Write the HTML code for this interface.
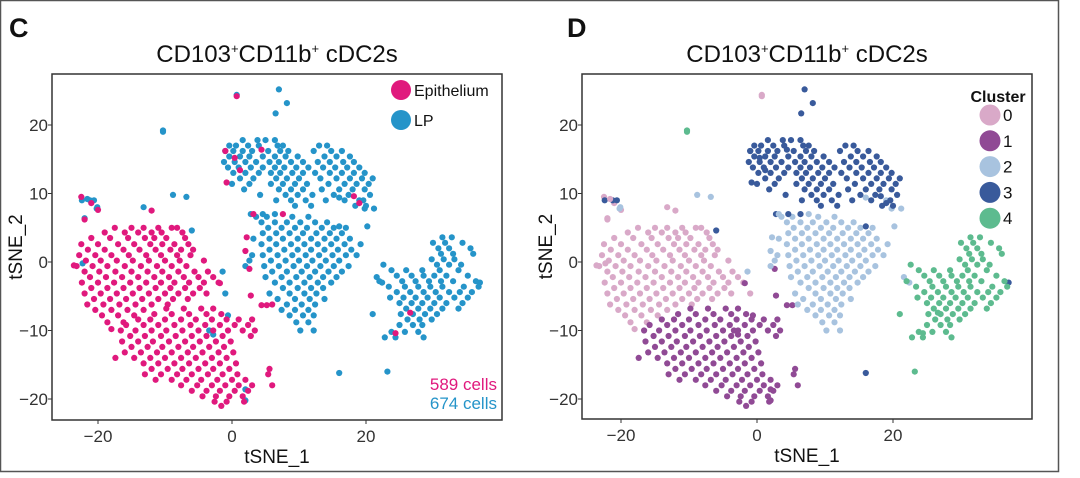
<!DOCTYPE html>
<html><head><meta charset="utf-8">
<style>
html,body{margin:0;padding:0;background:#fff;}
body{width:1080px;height:473px;overflow:hidden;position:relative;font-family:"Liberation Sans",sans-serif;}
svg text{font-family:"Liberation Sans",sans-serif;}
</style></head>
<body>
<svg id="chart" width="1080" height="473" viewBox="0 0 1080 473" xmlns="http://www.w3.org/2000/svg">
<rect x="0.5" y="0.5" width="1058" height="471" fill="#fff" stroke="#555" stroke-width="1.5"/>
<text x="9" y="37" font-size="27" font-weight="bold" fill="#111">C</text>
<text x="567" y="37" font-size="27" font-weight="bold" fill="#111">D</text>
<text x="277" y="62" font-size="24" text-anchor="middle" fill="#111">CD103<tspan font-size="13" dy="-9">+</tspan><tspan dy="9">CD11b</tspan><tspan font-size="13" dy="-9">+</tspan><tspan dy="9"> cDC2s</tspan></text>
<text x="807" y="62" font-size="24" text-anchor="middle" fill="#111">CD103<tspan font-size="13" dy="-9">+</tspan><tspan dy="9">CD11b</tspan><tspan font-size="13" dy="-9">+</tspan><tspan dy="9"> cDC2s</tspan></text>
<g id="panelC"></g>
<g id="panelD"></g>
</svg>
<script>
// tSNE coordinates, grouped by cluster: rows of [tSNE_2, [tSNE_1 values]]
const cluster0Rows = [
 [5,[-17.5,-15,-13.2,-11,-9,-8.2]],
 [4.3,[-19,-16,-14,-12,-10.5,-7.4]],
 [3.5,[-21,-18.2,-15.5,-13,-11.6,-9.8,-7]],
 [2.6,[-22.5,-20,-17,-14.6,-12.2,-10.4,-8.6,-6.5]],
 [1.8,[-21.5,-19,-16.2,-13.8,-11.4,-9.2,-7.6,-5.8]],
 [1,[-22.8,-20.4,-18,-15.4,-12.8,-10.6,-8.2,-6.2]],
 [0.2,[-21.8,-19.6,-17.2,-14.8,-12.4,-10,-7.8,-4.2]],
 [-0.6,[-23.2,-20.8,-18.6,-16,-13.6,-11.2,-9,-6.8]],
 [-1.4,[-22,-19.8,-17.4,-15,-12.6,-10.4,-8,-5.6,-3.6]],
 [-2.2,[-21.2,-18.8,-16.4,-14,-11.6,-9.4,-7.2,-5,-2.8]],
 [-3,[-22.4,-20,-17.6,-15.2,-12.8,-10.6,-8.6,-6.4,-4.2,-2]],
 [-3.8,[-21,-18.6,-16.2,-13.8,-11.4,-9.2,-7,-4.8]],
 [-4.6,[-22,-19.6,-17.2,-14.8,-12.4,-10,-8,-5.8,-3.8]],
 [-5.4,[-20.6,-18.2,-15.8,-13.4,-11,-8.8,-6.6]],
 [-6.2,[-21.6,-19.2,-16.8,-14.4,-12,-9.6]],
 [-7,[-20.4,-18,-15.6,-13.2]],
 [-7.8,[-19.4,-17,-14.6]],
 [-8.8,[-18.6,-16.2]],
 [-9.8,[-18]],
 [9.5,[-22.5]],[8.6,[-21]],[7.6,[-20]],[6.2,[-22]],[7.5,[-12]],[-0.5,[-23.6]],[24.2,[0.7]]
];
const cluster1Rows = [
 [-6.8,[-9.8,-7.2,-4.6,-2.8]],
 [-7.6,[-11.6,-9,-6.4,-3.8,-1.6]],
 [-8.4,[-14,-12.2,-10,-7.6,-5.4,-3,-0.8,1,3]],
 [-9.2,[-15.8,-13.2,-11,-8.6,-6.2,-4,-1.8,0.4,2.4]],
 [-10,[-16.6,-14.4,-12,-9.8,-7.4,-5,-2.8,-0.6,1.6,3.4]],
 [-10.8,[-15.2,-13,-10.6,-8.4,-6,-3.8,-1.4,2.8]],
 [-11.6,[-16.4,-14,-11.8,-9.4,-7,-4.8,-2.4,-0.2]],
 [-12.4,[-15,-12.6,-10.4,-8,-5.8,-3.4,-1.2]],
 [-13.2,[-16,-13.6,-11.2,-9,-6.6,-4.4,-2,0.2]],
 [-14,[-17.4,-14.6,-12.2,-10,-7.6,-5.4,-3,-0.8]],
 [-14.8,[-13.2,-11,-8.6,-6.4,-4,-1.8,0.6]],
 [-15.6,[-12,-9.6,-7.4,-5,-2.8,-0.4,5.6]],
 [-16.4,[-13,-10.6,-8.2,-6,-3.6,-1.4,0.8,5.4]],
 [-17.2,[-11.4,-9,-6.8,-4.6,-2.2,0,2]],
 [-18,[-7.6,-5.2,-3,-1,1,3,6]],
 [-18.8,[-6,-3.8,-1.8,0.4,2.4]],
 [-19.6,[-4.4,-2.4,-0.4,1.6]],
 [-20.4,[-2.6,-0.8,1.8]],
 [-21,[-1.6]],
 [-6.3,[4.4,5.2]],[-4.9,[2.8]],[-3.1,[-1.8]],[-1,[2.6]]
];
const cluster2Rows = [
 [6.6,[3.6,5.2,9,11.4]],
 [5.8,[4.4,6.4,8.2,10.2,12.4,14.2]],
 [5,[5.4,7.4,9.4,11.2,13.4,15.2,17]],
 [4.2,[4.6,6.6,8.6,10.6,12.6,14.6,16.4]],
 [3.4,[3.2,5.6,7.6,9.8,11.8,13.8,15.6,17.6]],
 [2.6,[4.4,6.6,8.8,10.8,12.8,14.8,16.8,19.2]],
 [1.8,[5.6,7.8,9.8,11.8,13.8,15.8,17.8]],
 [1,[3,4.6,6.8,9,11,13,15,17,18.6]],
 [0.2,[5.8,8,10,12,14,16,2.6]],
 [-0.6,[2,4.8,7,9.2,11.2,13.2,15.2,17.4]],
 [-1.4,[6,8.2,10.4,12.4,14.4,16.4,-1.4]],
 [-2.2,[5,7.4,9.6,11.6,13.6,15.6,21.6]],
 [-3,[6.4,8.6,10.8,12.8,14.8,22.4]],
 [-3.8,[7.6,9.8,11.8,13.6]],
 [-4.6,[5.6,8.6,10.8,12.6]],
 [-5.4,[6.8,9.4,11.6,13.8]],
 [-6.2,[8.2,10.4,12.4]],
 [-7,[7.4,9.4,11.4]],
 [-7.8,[8.6,10.6,12.2]],
 [-8.8,[9.6,11.4]],
 [-10,[10.2,12.2]],
 [9.5,[-6.8]],[7.8,[-20.2,19.8,21.2]],[9,[19]],[9.4,[16]],[5.2,[20.2]]
];
const cluster3Rows = [
 [17.8,[1.6,3.8,5,6.4]],
 [17,[-0.4,0.6,2.4,4,6.8,7.6,13,14.2]],
 [16.2,[-1,0.2,1.6,3,5.4,7.2,8.4,12.2,14.8,16.4]],
 [15.4,[-0.4,1.2,2.6,4.6,6.4,8,9.8,13.8,15.6,17.6]],
 [14.6,[-1.2,0.4,2,3.6,5.6,7,8.8,10.6,12.8,14.6,16.6,18.2]],
 [13.8,[-0.6,1,2.8,4.6,6.4,7.8,9.6,11.4,13.6,15.4,17.2,19]],
 [13,[0.2,2,4,5.8,7.2,9,10.6,12.4,14.6,16.4,18.2,19.8]],
 [12.2,[1.2,3.2,6.6,8.2,10,13.2,15.6,17.6,19.4,21]],
 [11.4,[0,2.6,5.8,7.6,9.4,11.2,14.4,16.8,18.6,20.4]],
 [10.6,[1.8,7,8.8,10.6,13.4,16,18,19.8]],
 [9.8,[4.2,8,9.8,12,15.2,17.4,20.6]],
 [9,[6.6,8.8,11,14,16.8,19.6,-21.2,-20.6]],
 [8.2,[9.4,11.8,18.4,20]],
 [7,[2.8,4.6,6.4]],
 [25.2,[7]],[23.2,[8.2]],[21.7,[6.5]],[4.6,[-6]],[-16.2,[16]],[-3,[37]],[5.2,[16]]
];
const cluster4Rows = [
 [3.6,[31.4,32.8]],
 [2.8,[30,31.8,34.4]],
 [2,[30.8,32.4,35.6]],
 [1.2,[31.2,33,36]],
 [0.4,[29.8,31.6,33.2]],
 [-0.4,[22.6,30.6,32.4,34.2]],
 [-1.2,[23.8,26,28.4,31,33.8]],
 [-2,[24.6,26.8,28.6,30.2,32,35.2]],
 [-2.8,[22,25.4,27.4,29.4,31.2,33,36.4]],
 [-3.6,[23.4,25.8,27.8,29.6,31.4,34.6,36.8]],
 [-4.4,[24.6,26.6,28.6,30.4,32.4,34,35.8]],
 [-5.2,[23.6,25.6,27.4,29.2,31,33.2,35.2]],
 [-6,[25,26.8,28.4,30.2,32,34.4]],
 [-6.8,[26,27.8,29.6,31.4,33.8]],
 [-7.6,[25.2,27,28.8,30.6,21]],
 [-8.4,[26.2,28,29.8]],
 [-9.2,[25,27,28.4]],
 [-10.2,[23.8,25.8,27.8]],
 [-11,[22.8,24.4,28.6]],
 [-16,[23.2]],[19,[-10.3]]
];
// cells whose tissue differs from its cluster's usual tissue: [tSNE_1, tSNE_2, tissue, cluster]
const mixedCells = [
 [-1,16.2,'E',3],[0.4,15.2,'E',3],[1.2,13.4,'E',3],[-0.8,11.6,'E',3],[4.4,16.4,'E',3],
 [3.2,7,'E',2],[7.6,7,'E',2],[2.2,3.6,'E',2],[2,1.6,'E',2],[6,-6.2,'E',2],
 [18.2,9.6,'E',3],[19,8.6,'E',3],[26.6,-7.4,'E',4],[24.4,-10.4,'E',4],
 [-3.4,-10,'L',1],[-2.8,-10.6,'L',1],[-1,-4.6,'L',0],[-0.6,-7.8,'L',1],[2,-20.2,'L',1],[2,-18.6,'L',1],
 [-22.3,-0.2,'L',0],[-22.4,9,'L',3],[-21.6,9.2,'L',0],[-20.1,8,'L',2],[-22,6.4,'L',0],[-13.2,8,'L',0],[-8.8,9.8,'L',2],
 [-10.3,19.2,'L',4],[0.7,24.4,'L',0]
];
const clusterLabels = ['0','1','2','3','4'];
const tissueLabels = ['Epithelium','LP'];
const cellCounts = ['589 cells','674 cells'];
const xTicks = [-20,0,20];
const yTicks = [20,10,0,-10,-20];

const tissueColor = {E:'#e0197d', L:'#2594c9'};
const clusterColor = ['#d9a9c8','#904a95','#a8c3df','#395a9b','#5dbb8f'];
const NS='http://www.w3.org/2000/svg';
function el(tag, attrs, parent){const e=document.createElementNS(NS,tag);for(const k in attrs)e.setAttribute(k,attrs[k]);parent.appendChild(e);return e;}

// build point list
const points=[];
[cluster0Rows,cluster1Rows,cluster2Rows,cluster3Rows,cluster4Rows].forEach((rows,ci)=>{
  rows.forEach(r=>r[1].forEach(x=>points.push({x:x,y:r[0],t:ci<2?'E':'L',c:ci})));
});
mixedCells.forEach(m=>points.push({x:m[0],y:m[1],t:m[2],c:m[3]}));

function panel(g, box, x0, y0, kx, ky, mode){
  const sx=v=>x0+kx*v, sy=v=>y0-ky*v;
  const pts=el('g',{},g);
  
  
  const order = mode==='tissue' ? points.slice().sort((a,b)=>(a.t==='L'?0:1)-(b.t==='L'?0:1)) : points;
  order.forEach(p=>{
    const c=el('circle',{cx:sx(p.x).toFixed(1),cy:sy(p.y).toFixed(1),r:3.1,fill:mode==='tissue'?tissueColor[p.t]:clusterColor[p.c]},pts);
    
    
  });
  const fr=el('rect',{x:box[0],y:box[1],width:box[2]-box[0],height:box[3]-box[1],fill:'none',stroke:'#333',"stroke-width":1.5},g);
  
  
  xTicks.forEach(v=>{
    el('line',{x1:sx(v),x2:sx(v),y1:box[3],y2:box[3]+4,stroke:'#333'},g);
    const t=el('text',{x:sx(v),y:box[3]+22,"font-size":17,"text-anchor":"middle",fill:'#333'},g);
    t.textContent=v<0?'\u2212'+(-v):String(v);
    
    
  });
  yTicks.forEach(v=>{
    el('line',{x1:box[0]-4,x2:box[0],y1:sy(v),y2:sy(v),stroke:'#333'},g);
    const t=el('text',{x:box[0]-4,y:sy(v)+6,"font-size":17,"text-anchor":"end",fill:'#333'},g);
    t.textContent=v<0?'\u2212'+(-v):String(v);
    
    
  });
  const xt=el('text',{x:(box[0]+box[2])/2,y:box[3]+43,"font-size":19,"text-anchor":"middle",fill:'#111'},g);
  xt.textContent='tSNE_1';
  
  
  const yt=el('text',{x:0,y:0,"font-size":19,"text-anchor":"middle",fill:'#111',transform:`translate(${box[0]-30},${(box[1]+box[3])/2}) rotate(-90)`},g);
  yt.textContent='tSNE_2';
  
  
}

const gC=document.getElementById('panelC'), gD=document.getElementById('panelD');
panel(gC,[52,74,502,420],232,262,6.7,6.85,'tissue');
panel(gD,[582,74,1032,419],757,262,6.8,6.85,'cluster');

// legend C
tissueLabels.forEach((lab,i)=>{
  const g=el('g',{},gC);
  
  
  el('circle',{cx:401,cy:90+i*30,r:10,fill:tissueColor[i===0?'E':'L']},g);
  const t=el('text',{x:414,y:96+i*30,"font-size":16,fill:'#111'},g);
  t.textContent=lab;
});
cellCounts.forEach((lab,i)=>{
  const t=el('text',{x:497,y:390+i*19,"font-size":17,"text-anchor":"end",fill:tissueColor[i===0?'E':'L']},gC);
  t.textContent=lab;
  
  
});
// legend D
const lt=el('text',{x:998,y:102,"font-size":16,"font-weight":"bold","text-anchor":"middle",fill:'#111'},gD);
lt.textContent='Cluster';


clusterLabels.forEach((lab,i)=>{
  const g=el('g',{},gD);
  
  
  el('circle',{cx:990,cy:115+i*25.8,r:10.5,fill:clusterColor[i]},g);
  const t=el('text',{x:1003,y:121+i*25.8,"font-size":17,fill:'#111'},g);
  t.textContent=lab;
});
</script>
</body></html>
